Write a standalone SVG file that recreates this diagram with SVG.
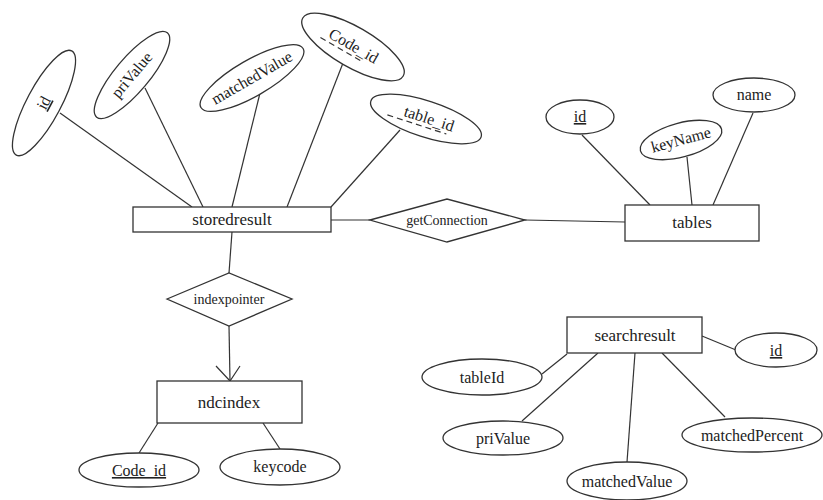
<svg xmlns="http://www.w3.org/2000/svg" width="823" height="500" viewBox="0 0 823 500" font-family="'Liberation Serif', 'DejaVu Serif', serif">
<style>
  .shape { fill: #ffffff; stroke: #333333; stroke-width: 1.3; }
  .conn line, .conn polyline { stroke: #333333; stroke-width: 1.2; fill: none; }
  text { fill: #222222; text-anchor: middle; }
  .ent { font-size: 17px; }
  .att { font-size: 16px; }
  .rel { font-size: 14px; }
  .ul { text-decoration: underline; }
  .dash { stroke: #333333; stroke-width: 1.2; stroke-dasharray: 6 4; }
</style>
<rect width="823" height="500" fill="#ffffff"/>
<g class="conn" id="connectors">
  <line x1="60" y1="113" x2="192" y2="207"/>
  <line x1="145" y1="88" x2="203" y2="207"/>
  <line x1="260" y1="93" x2="232" y2="207"/>
  <line x1="343" y1="63" x2="287" y2="207"/>
  <line x1="400" y1="130" x2="331" y2="207"/>
  <line x1="331" y1="220" x2="370" y2="220"/>
  <line x1="525" y1="220" x2="625" y2="222"/>
  <line x1="582" y1="135" x2="650" y2="205"/>
  <line x1="687" y1="157" x2="692" y2="205"/>
  <line x1="753" y1="113" x2="713" y2="205"/>
  <line x1="232" y1="232" x2="229" y2="273"/>
  <line x1="229" y1="326" x2="230" y2="381"/>
  <polyline points="216,366 230,381 240,366"/>
  <line x1="158" y1="423" x2="139" y2="453"/>
  <line x1="263" y1="423" x2="280" y2="449"/>
  <line x1="702" y1="336" x2="736" y2="350"/>
  <line x1="542" y1="374" x2="567" y2="354"/>
  <line x1="522" y1="421" x2="598" y2="353"/>
  <line x1="627" y1="462" x2="635" y2="353"/>
  <line x1="725" y1="417" x2="662" y2="353"/>
</g>
<g id="storedresult">
  <rect class="shape" x="133" y="207" width="198" height="25"/>
  <text class="ent" x="232" y="225">storedresult</text>
</g>
<g id="sr_id" transform="translate(44,103) rotate(-62)">
  <ellipse class="shape" rx="59" ry="17"/>
  <text class="att ul" x="0" y="5">id</text>
</g>
<g id="sr_priValue" transform="translate(132,75) rotate(-50)">
  <ellipse class="shape" rx="55" ry="17"/>
  <text class="att" x="0" y="5">priValue</text>
</g>
<g id="sr_matchedValue" transform="translate(252,78) rotate(-30)">
  <ellipse class="shape" rx="59" ry="18"/>
  <text class="att" x="0" y="5">matchedValue</text>
</g>
<g id="sr_code_id" transform="translate(353,47) rotate(30)">
  <ellipse class="shape" rx="58" ry="20"/>
  <text class="att" x="0" y="4">Code_id</text>
  <line class="dash" x1="-33" y1="8" x2="15" y2="8"/>
</g>
<g id="sr_table_id" transform="translate(426,119) rotate(18)">
  <ellipse class="shape" rx="58" ry="18"/>
  <text class="att" x="3" y="4">table_id</text>
  <line class="dash" x1="-38" y1="8" x2="24" y2="8"/>
</g>
<g id="getConnection">
  <polygon class="shape" points="370,220 447,199 525,220 447,242"/>
  <text class="rel" x="447" y="225">getConnection</text>
</g>
<g id="tables">
  <rect class="shape" x="625" y="205" width="134" height="36"/>
  <text class="ent" x="692" y="228">tables</text>
</g>
<g id="t_id">
  <ellipse class="shape" cx="580" cy="117" rx="34" ry="17"/>
  <text class="att ul" x="580" y="122">id</text>
</g>
<g id="t_keyName" transform="translate(681,140) rotate(-15)">
  <ellipse class="shape" rx="42" ry="17"/>
  <text class="att" x="0" y="5">keyName</text>
</g>
<g id="t_name">
  <ellipse class="shape" cx="754" cy="95" rx="41" ry="17"/>
  <text class="att" x="754" y="100">name</text>
</g>
<g id="indexpointer">
  <polygon class="shape" points="167,299 229,273 292,299 229,326"/>
  <text class="rel" x="229" y="304">indexpointer</text>
</g>
<g id="ndcindex">
  <rect class="shape" x="157" y="381" width="145" height="42"/>
  <text class="ent" x="229" y="408">ndcindex</text>
</g>
<g id="n_code_id">
  <ellipse class="shape" cx="139" cy="470" rx="60" ry="17"/>
  <text class="att ul" x="139" y="476">Code_id</text>
</g>
<g id="n_keycode">
  <ellipse class="shape" cx="280" cy="467" rx="60" ry="18"/>
  <text class="att" x="280" y="472">keycode</text>
</g>
<g id="searchresult">
  <rect class="shape" x="567" y="317" width="135" height="36"/>
  <text class="ent" x="635" y="341">searchresult</text>
</g>
<g id="s_id">
  <ellipse class="shape" cx="776" cy="350" rx="41" ry="17"/>
  <text class="att ul" x="776" y="356">id</text>
</g>
<g id="s_tableId">
  <ellipse class="shape" cx="482" cy="377" rx="60" ry="18"/>
  <text class="att" x="482" y="383">tableId</text>
</g>
<g id="s_priValue">
  <ellipse class="shape" cx="503" cy="438" rx="60" ry="17"/>
  <text class="att" x="503" y="444">priValue</text>
</g>
<g id="s_matchedValue">
  <ellipse class="shape" cx="627" cy="481" rx="60" ry="19"/>
  <text class="att" x="627" y="487">matchedValue</text>
</g>
<g id="s_matchedPercent">
  <ellipse class="shape" cx="752" cy="435" rx="70" ry="17"/>
  <text class="att" x="752" y="441">matchedPercent</text>
</g>
</svg>
